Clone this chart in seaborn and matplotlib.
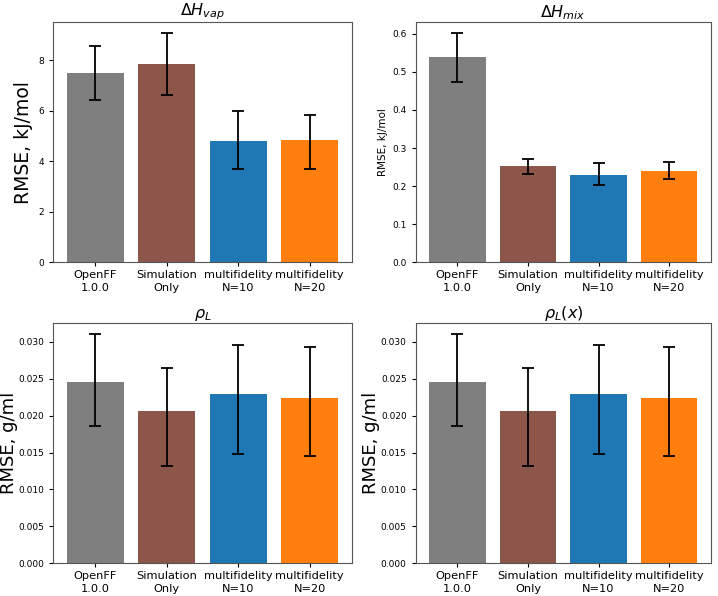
import numpy as np
import pandas as pd
import matplotlib
matplotlib.use("Agg")
import matplotlib.pyplot as plt
import seaborn as sns

methods = ["OpenFF\n1.0.0", "Simulation\nOnly", "multifidelity\nN=10", "multifidelity\nN=20"]
colors = ["#7f7f7f", "#8c564b", "#1f77b4", "#ff7f0e"]

# RMSE with lower / upper confidence bounds
hvap = [7.52, 7.87, 4.82, 4.83]
hvap_lo = [6.42, 6.62, 3.71, 3.70]
hvap_hi = [8.58, 9.07, 5.98, 5.83]

hmix = [0.539, 0.252, 0.230, 0.239]
hmix_lo = [0.473, 0.233, 0.204, 0.219]
hmix_hi = [0.601, 0.272, 0.260, 0.263]

rho = [0.0246, 0.0206, 0.0230, 0.0224]
rho_lo = [0.0186, 0.0132, 0.0148, 0.0145]
rho_hi = [0.0310, 0.0265, 0.0296, 0.0293]

rhox = [0.0246, 0.0206, 0.0230, 0.0224]
rhox_lo = [0.0186, 0.0132, 0.0148, 0.0145]
rhox_hi = [0.0310, 0.0265, 0.0296, 0.0293]

panels = [
    (r"$\Delta H_{vap}$", "RMSE, kJ/mol", 13.5, 4, hvap, hvap_lo, hvap_hi, [0, 2, 4, 6, 8], "%d"),
    (r"$\Delta H_{mix}$", "RMSE, kJ/mol", 7.5, 3, hmix, hmix_lo, hmix_hi, np.arange(0, 0.61, 0.1), "%.1f"),
    (r"$\rho_L$", "RMSE, g/ml", 13, 0.5, rho, rho_lo, rho_hi, np.arange(0, 0.0301, 0.005), "%.3f"),
    (r"$\rho_L(x)$", "RMSE, g/ml", 13, 0.5, rhox, rhox_lo, rhox_hi, np.arange(0, 0.0301, 0.005), "%.3f"),
]

fig = plt.figure(figsize=(7.18, 5.96), dpi=100)
boxes = [
    [0.074, 0.560, 0.416, 0.403],
    [0.579, 0.560, 0.411, 0.403],
    [0.074, 0.055, 0.416, 0.403],
    [0.579, 0.055, 0.411, 0.403],
]

for box, (title, ylab, ylab_size, pad, vals, lo, hi, ticks, fmt) in zip(boxes, panels):
    ax = fig.add_axes(box)
    df = pd.DataFrame({"method": methods, "rmse": vals})
    sns.barplot(data=df, x="method", y="rmse", hue="method", palette=colors,
                legend=False, width=0.8, ax=ax, saturation=1)
    vals = np.array(vals)
    yerr = [vals - np.array(lo), np.array(hi) - vals]
    ax.errorbar(np.arange(len(vals)), vals, yerr=yerr, fmt="none",
                ecolor="black", elinewidth=1.3, capsize=4.5, capthick=1.3)
    ax.set_xlim(-0.59, 3.59)
    ax.set_ylim(0, max(hi) * 1.05)
    ax.set_yticks(ticks)
    ax.set_yticklabels([fmt % t for t in ticks], fontsize=6.5)
    ax.set_xticks(range(len(methods)))
    ax.set_xticklabels(methods, fontsize=8.2, linespacing=1.35)
    ax.tick_params(axis="x", length=3, pad=2.5)
    ax.tick_params(axis="y", length=3)
    ax.set_xlabel("")
    ax.set_ylabel(ylab, fontsize=ylab_size, labelpad=pad)
    ax.set_title(title, fontsize=11.5, pad=2)
    for s in ax.spines.values():
        s.set_color("#555555")

fig.savefig("out.png", dpi=100)
